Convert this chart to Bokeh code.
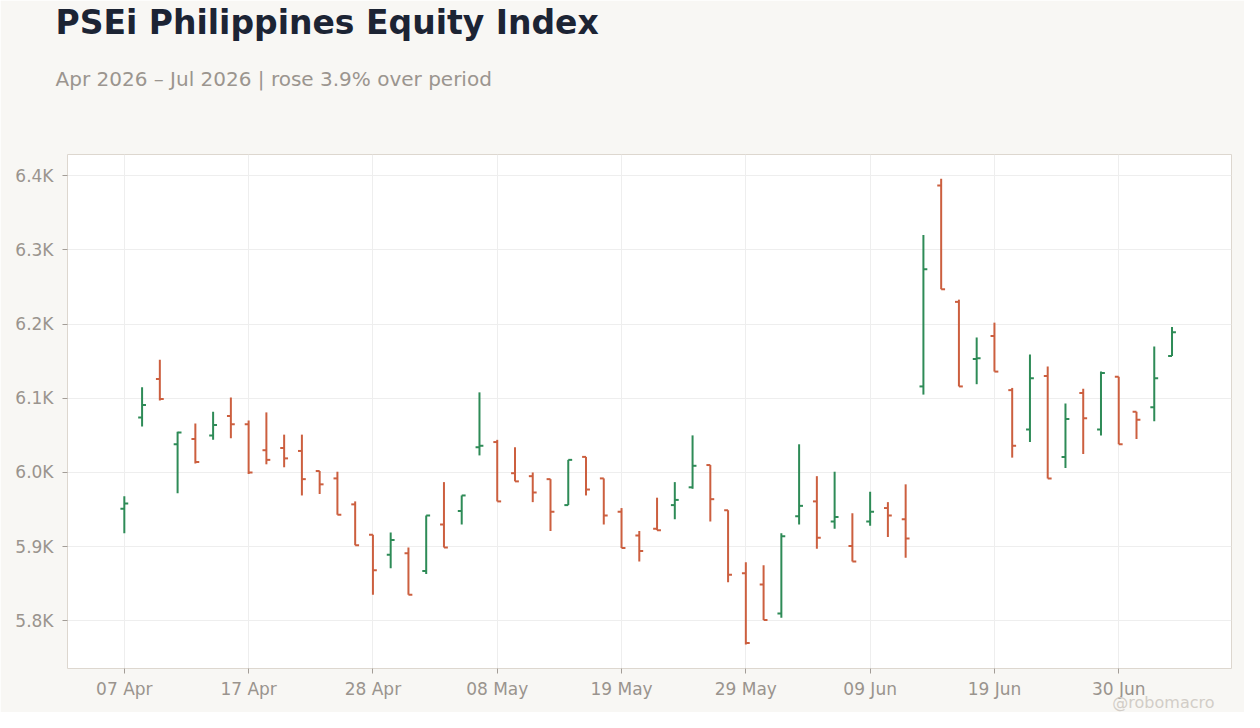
import pandas as pd
from bokeh.plotting import figure
from bokeh.models import ColumnDataSource, Range1d, FixedTicker, Label, Title
from bokeh.embed import file_html
from bokeh.resources import INLINE

# 取引日（祝日を除く営業日）
dates = ['07 Apr', '08 Apr', '10 Apr', '13 Apr', '14 Apr', '15 Apr', '16 Apr', '17 Apr',
         '20 Apr', '21 Apr', '22 Apr', '23 Apr', '24 Apr', '27 Apr', '28 Apr', '29 Apr',
         '30 Apr', '04 May', '05 May', '06 May', '07 May', '08 May', '11 May', '12 May',
         '13 May', '14 May', '15 May', '18 May', '19 May', '20 May', '21 May', '22 May',
         '25 May', '26 May', '28 May', '29 May', '01 Jun', '02 Jun', '03 Jun', '04 Jun',
         '05 Jun', '08 Jun', '09 Jun', '10 Jun', '11 Jun', '15 Jun', '16 Jun', '17 Jun',
         '18 Jun', '19 Jun', '22 Jun', '23 Jun', '24 Jun', '25 Jun', '26 Jun', '29 Jun',
         '30 Jun', '01 Jul', '02 Jul', '03 Jul']

opens = [5951, 6074, 6126, 6038, 6045, 6050, 6076, 6065, 6030, 6033,
         6029, 6002, 5992, 5957, 5916, 5889, 5891, 5867, 5930, 5948,
         6034, 6041, 5999, 5995, 5991, 5956, 6021, 5992, 5947, 5915,
         5924, 5956, 5980, 6010, 5949, 5864, 5849, 5810, 5941, 5961,
         5934, 5901, 5934, 5952, 5937, 6116, 6387, 6230, 6153, 6184,
         6111, 6058, 6130, 6021, 6107, 6058, 6129, 6082, 6088, 6157]
highs = [5968, 6115, 6152, 6055, 6066, 6082, 6101, 6070, 6081, 6051,
         6051, 6002, 6001, 5961, 5916, 5919, 5899, 5942, 5987, 5969,
         6108, 6044, 6034, 6000, 5991, 6017, 6021, 5992, 5952, 5921,
         5966, 5987, 6050, 6010, 5949, 5879, 5875, 5918, 6038, 5995,
         6001, 5945, 5974, 5960, 5984, 6320, 6396, 6233, 6182, 6202,
         6114, 6159, 6143, 6093, 6113, 6136, 6129, 6082, 6170, 6196]
lows = [5918, 6062, 6097, 5972, 6012, 6044, 6046, 5998, 6011, 6007,
        5969, 5971, 5943, 5902, 5835, 5871, 5835, 5863, 5899, 5930,
        6023, 5961, 5988, 5960, 5921, 5956, 5969, 5930, 5898, 5880,
        5922, 5937, 5978, 5934, 5852, 5768, 5801, 5804, 5930, 5897,
        5924, 5880, 5928, 5913, 5885, 6105, 6247, 6116, 6119, 6136,
        6020, 6041, 5992, 6006, 6025, 6050, 6038, 6045, 6069, 6157]
closes = [5958, 6091, 6099, 6054, 6014, 6064, 6065, 6000, 6017, 6019,
          5991, 5984, 5943, 5902, 5868, 5909, 5835, 5942, 5899, 5969,
          6036, 5961, 5988, 5973, 5947, 6017, 5977, 5942, 5898, 5894,
          5922, 5963, 6009, 5964, 5862, 5770, 5801, 5914, 5955, 5912,
          5940, 5880, 5947, 5942, 5911, 6274, 6247, 6116, 6154, 6136,
          6036, 6127, 5992, 6072, 6073, 6134, 6038, 6071, 6127, 6189]

x_tick_idx = [0, 7, 14, 21, 28, 35, 42, 49, 56]
y_ticks = [5800, 5900, 6000, 6100, 6200, 6300, 6400]
y_labels = ['5.8K', '5.9K', '6.0K', '6.1K', '6.2K', '6.3K', '6.4K']

UP = '#2e8b57'
DOWN = '#cc5f3f'
FONT = 'DejaVu Sans'

df = pd.DataFrame({'open': opens, 'high': highs, 'low': lows, 'close': closes})
df['idx'] = range(len(df))
df['left'] = df['idx'] - 0.22
df['right'] = df['idx'] + 0.22
df['color'] = [UP if c >= o else DOWN for o, c in zip(df['open'], df['close'])]
src = ColumnDataSource(df)

p = figure(width=1244, height=712, output_backend="svg", toolbar_location=None, title=None,
           x_range=Range1d(-3.2, 62.35), y_range=Range1d(5735.7, 6428.7),
           min_border_left=67, min_border_right=13, min_border_top=0, min_border_bottom=44)
p.background_fill_color = 'white'
p.border_fill_color = '#f8f7f4'
p.outline_line_color = '#ddd7cf'
p.outline_line_width = 1

# 高値-安値の縦線、始値(左)と終値(右)の横線
p.segment('idx', 'low', 'idx', 'high', source=src, line_color='color', line_width=2)
p.segment('left', 'open', 'idx', 'open', source=src, line_color='color', line_width=2)
p.segment('idx', 'close', 'right', 'close', source=src, line_color='color', line_width=2)

p.xaxis.ticker = FixedTicker(ticks=x_tick_idx)
p.xaxis.major_label_overrides = {i: dates[i] for i in x_tick_idx}
p.yaxis.ticker = FixedTicker(ticks=y_ticks)
p.yaxis.major_label_overrides = dict(zip(y_ticks, y_labels))

for ax in (p.xaxis[0], p.yaxis[0]):
    ax.axis_line_color = None
    ax.major_tick_line_color = '#a39d97'
    ax.major_tick_in = 0
    ax.major_tick_out = 5
    ax.minor_tick_line_color = None
    ax.major_label_text_font = FONT
    ax.major_label_text_font_size = '17px'
    ax.major_label_text_color = '#9a948e'
p.xaxis.major_label_standoff = 5
p.yaxis.major_label_standoff = 9

p.xgrid.grid_line_color = '#eeeeee'
p.ygrid.grid_line_color = '#eeeeee'

# 透かし：上側パネルの一番内側に置く（枠で切られないように）。座標はパネル下端＝枠の上端から
p.add_layout(Label(x=1147, y=-548, x_units='screen', y_units='screen',
                   text='@robomacro', text_font=FONT, text_font_size='16px',
                   text_color='#d2cdc7', text_align='right', text_baseline='alphabetic'),
             'above')

# タイトル類（枠に近い順に積まれる）
p.add_layout(Title(text=' ', text_font_size='1px', standoff=19), 'above')
p.add_layout(Title(text='Apr 2026 – Jul 2026 | rose 3.9% over period', align='left', offset=-12,
                   standoff=46, text_font=FONT, text_font_size='20px', text_font_style='normal',
                   text_color='#9b958f'), 'above')
p.add_layout(Title(text='PSEi Philippines Equity Index', align='left', offset=-12,
                   standoff=0, text_font=FONT, text_font_size='33px', text_font_style='bold',
                   text_color='#1c2434'), 'above')

open("out.html", "w").write(file_html(p, INLINE))
